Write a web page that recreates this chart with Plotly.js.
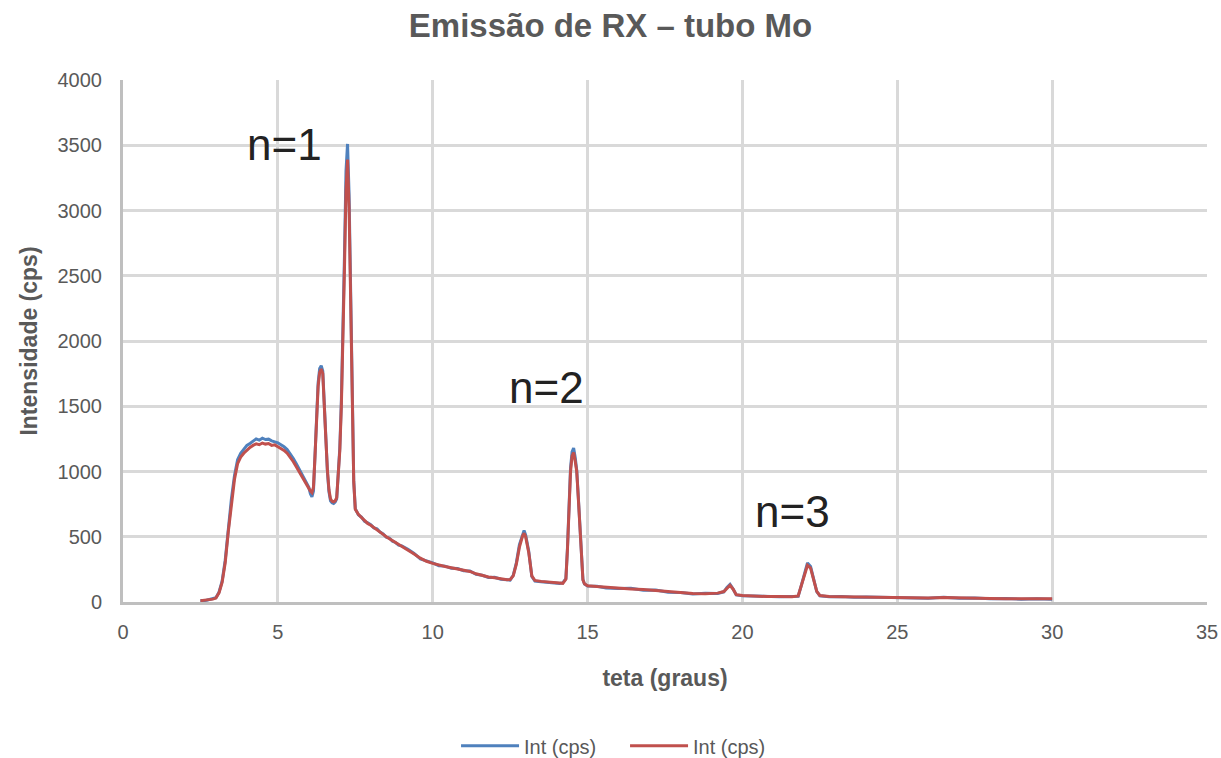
<!DOCTYPE html>
<html>
<head>
<meta charset="utf-8">
<script src="https://cdn.plot.ly/plotly-3.0.1.min.js"></script>
<style>
  html, body { margin: 0; padding: 0; background: #ffffff; }
  #chart { width: 1221px; height: 758px; }
</style>
</head>
<body>
<div id="chart"></div>
<script>
// teta (graus)
const theta = [
  2.5,2.6,2.7,2.8,2.9,3.0,3.1,3.2,3.3,3.4,3.5,3.6,3.7,3.8,3.9,4.0,4.1,4.2,4.3,4.4,4.5,4.6,4.7,4.8,4.9,5.0,5.1,5.2,5.3,5.4,5.5,5.6,5.7,5.8,5.9,6.0,
  6.05,6.1,6.15,6.2,6.25,6.3,6.35,6.4,6.45,6.5,6.55,6.6,6.65,6.7,6.75,6.8,6.85,6.9,6.95,7.0,7.05,7.1,7.15,7.2,7.25,7.3,7.35,7.4,7.45,7.5,
  7.6,7.7,7.8,7.9,8.0,8.1,8.2,8.3,8.4,8.5,8.6,8.7,8.8,8.9,9.0,
  9.2,9.4,9.6,9.8,10.0,10.2,10.4,10.6,10.8,11.0,11.2,11.4,11.6,11.8,12.0,12.2,12.4,
  12.5,12.6,12.7,12.8,12.9,12.95,13.0,13.1,13.2,13.3,
  13.5,13.7,13.9,14.1,14.2,14.3,
  14.35,14.4,14.45,14.5,14.55,14.6,14.65,14.7,14.75,14.8,14.85,14.9,
  15.0,15.3,15.6,16.0,16.4,16.8,17.2,17.6,18.0,18.4,18.8,19.2,
  19.4,19.5,19.6,19.7,19.8,20.0,
  20.4,20.8,21.2,21.6,21.8,
  21.9,22.0,22.1,22.2,22.3,22.4,22.5,
  22.8,23.2,23.6,24.0,24.5,25.0,25.5,26.0,26.5,27.0,27.5,28.0,28.5,29.0,29.5,30.0
];

// Int (cps) - serie azul
const intBlue = [
  12,10,14,22,25,32,75,160,320,560,790,970,1090,1140,1175,1200,1215,1235,1250,1240,1255,1245,1248,1235,1230,1220,1205,1190,1168,1135,1100,1058,1015,968,920,880,
  830,805,850,1100,1430,1680,1790,1810,1770,1560,1260,1000,845,775,760,755,765,790,960,1180,1540,2000,2650,3300,3510,3120,2300,1480,930,715,
  668,650,618,606,592,568,560,536,522,496,490,466,456,436,430,
  404,372,330,315,300,278,275,258,256,240,238,212,205,188,190,174,168,
  168,205,300,440,525,548,515,390,195,160,
  155,150,150,142,146,180,
  410,770,1030,1150,1180,1110,1010,810,560,310,172,138,
  122,120,108,104,106,90,92,74,72,62,68,66,
  78,112,135,100,54,48,
  44,45,40,42,44,
  125,220,300,272,185,80,48,
  40,42,36,38,36,30,32,28,36,28,30,25,26,22,24,22
];

// Int (cps) - serie vermelha
const intRed = [
  10,12,15,20,22,30,70,150,300,540,760,940,1060,1110,1140,1165,1185,1200,1212,1205,1218,1210,1214,1200,1204,1190,1176,1162,1140,1110,1075,1035,995,950,905,870,
  850,838,880,1120,1420,1650,1760,1785,1750,1540,1250,1010,860,790,772,768,775,800,950,1160,1500,1950,2550,3150,3390,3020,2250,1450,920,710,
  672,648,622,602,588,572,556,540,518,500,486,470,452,440,426,
  400,368,336,312,296,282,272,262,252,246,234,216,202,192,186,178,170,
  172,200,290,420,505,526,500,380,200,165,
  158,152,148,145,143,175,
  400,750,1000,1120,1145,1080,1000,800,550,300,170,140,
  125,118,112,106,100,95,88,78,70,66,64,68,
  80,108,128,98,56,50,
  45,42,42,40,46,
  120,210,282,260,180,82,50,
  42,40,38,40,35,32,30,30,34,30,28,27,25,24,22,24
];

const seriesNames = ["Int (cps)", "Int (cps)"];
const peakLabels = ["n=1", "n=2", "n=3"];
const peakLabelX = [5.21, 13.67, 21.62];
const peakLabelY = [3502, 1640, 690];

const FONT = '"Liberation Sans", Arial, sans-serif';
const GREY = '#595959';

const traces = [
  { x: theta, y: intBlue, name: seriesNames[0], type: 'scatter', mode: 'lines',
    line: { color: '#4F81BD', width: 3 } },
  { x: theta, y: intRed, name: seriesNames[1], type: 'scatter', mode: 'lines',
    line: { color: '#C0504D', width: 3 } }
];

const annotations = peakLabels.map((t, i) => ({
  x: peakLabelX[i], y: peakLabelY[i], xref: 'x', yref: 'y',
  text: t, showarrow: false, xanchor: 'center', yanchor: 'middle',
  font: { family: FONT, size: 44, color: '#222222' }
}));

const layout = {
  width: 1221, height: 758,
  paper_bgcolor: '#ffffff', plot_bgcolor: '#ffffff',
  margin: { l: 123, r: 14, t: 80, b: 156 },
  title: { text: 'Emissão de RX – tubo Mo', x: 0.5, xref: 'container', xanchor: 'center',
    y: 0.966, yref: 'container', yanchor: 'middle',
    font: { family: FONT, size: 33, color: GREY, weight: 'bold' } },
  xaxis: {
    range: [0, 35], dtick: 5, tick0: 0,
    showgrid: true, gridcolor: '#D9D9D9', gridwidth: 3,
    zeroline: false, showline: true, linecolor: '#BFBFBF', linewidth: 3,
    ticks: '', ticklabelstandoff: 10,
    tickfont: { family: FONT, size: 20, color: GREY },
    title: { text: 'teta (graus)', standoff: 28,
      font: { family: FONT, size: 23, color: GREY, weight: 'bold' } },
    automargin: false
  },
  yaxis: {
    range: [0, 4000], dtick: 500, tick0: 0,
    showgrid: true, gridcolor: '#D9D9D9', gridwidth: 3,
    zeroline: false, showline: true, linecolor: '#BFBFBF', linewidth: 3,
    ticks: '', ticklabelstandoff: 14,
    tickfont: { family: FONT, size: 20, color: GREY },
    title: { text: 'Intensidade (cps)', standoff: 14,
      font: { family: FONT, size: 23, color: GREY, weight: 'bold' } },
    automargin: false
  },
  showlegend: true,
  legend: { orientation: 'h', x: 0.3735, xref: 'container', xanchor: 'left',
    y: 0.016, yref: 'container', yanchor: 'middle',
    itemwidth: 58, entrywidth: 96, entrywidthmode: 'pixels',
    font: { family: FONT, size: 20, color: GREY }, bgcolor: 'rgba(0,0,0,0)',
    traceorder: 'normal' },
  annotations: annotations
};

Plotly.newPlot('chart', traces, layout, { displayModeBar: false, responsive: false });
</script>
</body>
</html>
